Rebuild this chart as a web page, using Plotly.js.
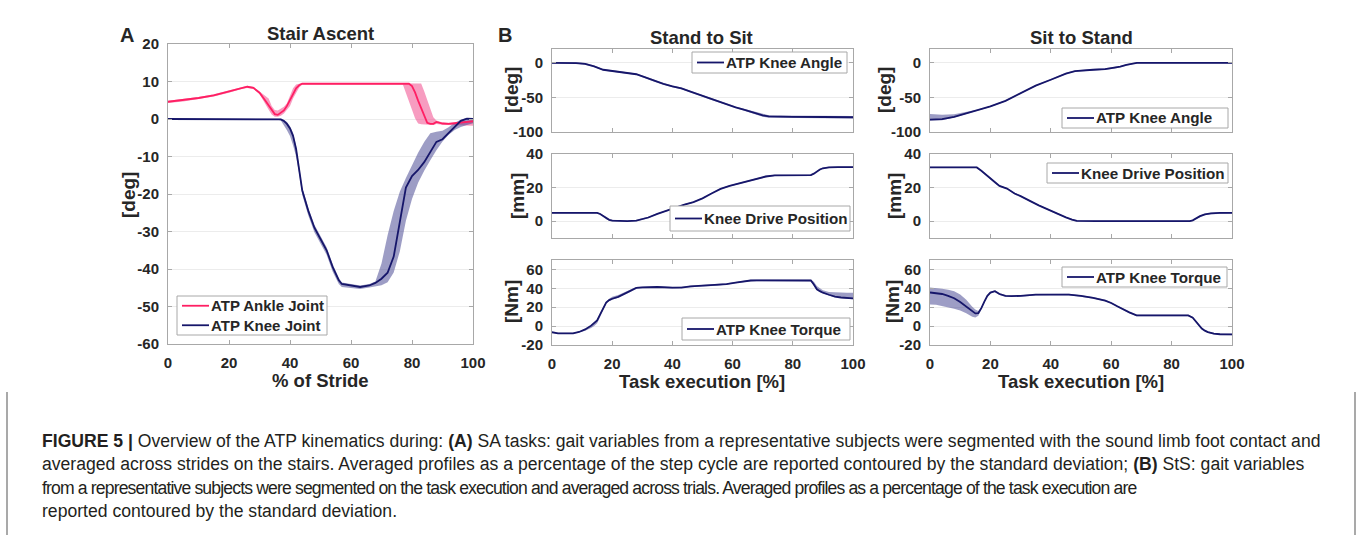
<!DOCTYPE html>
<html><head><meta charset="utf-8">
<script src="https://cdn.plot.ly/plotly-3.0.1.min.js"></script>
<style>html,body{margin:0;padding:0;background:#fff}#chart{width:1358px;height:535px}</style>
</head><body><div id="chart"></div>
<script>
// ---------- DATA ----------
// Panel A: Stair Ascent (% of stride)
const saAnkleX = [0,5,10,15,20,24,26,28,30,32,33,34,35,36,37,38,39,40,41,42,43,44,50,60,70,77,78,79,80,81,82,83,84,85,86,87,88,89,90,92,94,96,98,100];
const saAnkleMean = [4.6,5.0,5.6,6.3,7.3,8.3,8.6,8.3,7.0,4.8,3.6,2.4,1.3,1.1,1.6,2.3,3.5,5.0,6.9,8.2,9.0,9.4,9.4,9.4,9.4,9.4,9.4,9.4,8.8,7.1,4.9,2.9,0.6,-1.0,-1.3,-1.3,-0.8,-1.0,-1.2,-1.3,-1.1,-0.9,-0.8,-0.6];
const saAnkleSdUp = [0.3,0.3,0.3,0.3,0.3,0.3,0.3,0.3,0.3,1.4,1.9,1.1,1.1,1.2,1.2,1.0,0.7,1.5,1.3,1.0,0.5,0.2,0.2,0.2,0.2,0.1,0.1,0.1,0.7,2.4,4.6,6.6,6.8,6.1,4.0,1.8,0.4,0.3,0.3,0.3,0.3,0.3,0.3,0.3];
const saAnkleSdDn = [0.3,0.3,0.3,0.3,0.3,0.3,0.3,0.3,0.3,0.8,1.1,1.2,0.7,0.5,0.7,0.8,1.0,1.5,1.4,1.2,0.6,0.2,0.2,0.2,0.2,0.2,2.2,4.6,6.3,6.9,6.1,4.3,2.1,0.5,0.3,0.3,0.5,0.4,0.3,0.3,0.5,0.8,1.0,1.2];

const saKneeX = [0,10,20,30,36,37,38,39,40,41,42,43,44,46,48,50,52,54,56,57,60,63,66,68,70,72,74,76,78,80,82,84,86,88,90,92,94,96,98,100];
const saKneeMean = [0,0,0,0,0,-0.1,-0.5,-1.3,-2.5,-4.5,-8,-13,-19,-24.5,-29,-32,-35,-39.5,-43,-44,-44.5,-44.8,-44.4,-43.7,-42.6,-41,-36.7,-27,-18.3,-15.2,-13.6,-11.5,-8.9,-6.1,-5.4,-3.8,-2.1,-0.5,0.1,0];
const saKneeSdUp = [0.2,0.2,0.2,0.2,0.2,0.2,0.3,0.5,0.6,0.8,0.8,0.8,0.8,0.8,0.8,0.8,0.8,0.8,0.6,0.4,0.4,0.4,0.4,0.4,4.1,10,12.2,7.6,2.6,3.0,4.6,5.4,5.1,2.7,2.3,1.6,1.1,0.3,0.2,0.3];
const saKneeSdDn = [0.2,0.2,0.2,0.2,0.2,0.3,1.0,1.7,2.0,2.5,2.0,1.5,1.2,1.2,1.2,1.2,1.2,1.2,1.0,0.8,0.5,0.5,0.5,0.8,1.7,2.5,4.2,8.3,8.8,6.1,3.4,2.3,2.1,2.2,0.6,0.4,0.8,1.6,1.7,1.1];

// Panel B: Stand to Sit (task execution %)
const s2sAngleX = [0,5,8,11,14,17,19,22,25,28,31,34,37,40,43,46,49,52,55,58,61,64,67,70,72,75,80,90,100];
const s2sAngleMean = [0,0,-0.3,-1.5,-5,-10,-11,-12.5,-14.5,-16.5,-21,-26,-30.5,-34,-37,-41.5,-46,-51,-56,-60.5,-64.5,-68,-72,-76,-77.5,-78,-78,-78.3,-78.7];
const s2sAngleSd = [0.8,0.8,1,1.2,1.2,1.2,1.2,1.2,1.2,1.2,1.2,1.2,1.2,1.2,1.2,1.2,1.2,1.2,1.2,1.2,1.2,1.2,1.5,1.8,1.8,1.8,1.8,1.8,1.8];

const s2sDriveX = [0,10,15,16,17,18,19,20,22,25,28,30,32,35,38,41,44,47,50,53,56,59,62,65,68,71,74,80,86,87,88,89,90,92,95,100];
const s2sDriveMean = [5,5,5,4.3,3,1.6,0.8,0.4,0.1,0,0.3,1.2,2.2,4.4,6.3,8.2,9.9,11.4,13.6,16.5,19.2,21,22.5,23.8,25.3,26.6,27.3,27.4,27.4,28.3,29.8,30.8,31.5,32,32.2,32.2];
const s2sDriveSd = [0.4,0.4,0.4,0.4,0.4,0.4,0.4,0.4,0.4,0.4,0.4,0.4,0.4,0.4,0.4,0.4,0.4,0.4,0.4,0.4,0.4,0.4,0.4,0.4,0.4,0.4,0.4,0.4,0.4,0.4,0.4,0.4,0.4,0.4,0.4,0.4];

const s2sTorqueX = [0,2,5,7,9,11,13,14,15,16,17,18,19,20,22,24,26,28,30,35,40,43,46,50,55,58,61,64,66,68,70,75,80,86,87,88,89,90,92,94,96,98,100];
const s2sTorqueMean = [-6.5,-7.6,-7.7,-7.7,-6.2,-3.5,0.5,3.2,6,12.5,19,25,27.5,29,31,34,37,40.5,41,41.4,40.7,40.8,42,42.7,43.5,44.5,46,47.5,48.3,48.5,48.4,48.3,48.3,48.3,44,39,37,35.4,33.2,31.3,30.3,29.8,29.3];
const s2sTorqueSdUp = [0.6,0.6,0.6,0.6,0.6,0.8,1,1,1,1,1,1,1.5,2,2,1.5,1,0.8,0.8,0.8,0.8,0.8,0.8,0.8,0.8,0.8,0.8,0.8,0.8,0.8,0.8,0.8,0.8,0.8,3,3.5,3,2.6,2.8,4.2,5.2,5.5,5.9];
const s2sTorqueSdDn = [0.6,0.6,0.6,0.6,0.8,1.5,2.5,3,3,2,1.5,1,1,1,1,1,0.8,0.8,0.8,0.8,0.8,0.8,0.8,0.8,0.8,0.8,0.8,0.8,0.8,0.8,0.8,0.8,0.8,0.8,1,1,0.8,0.8,0.8,0.8,0.8,0.8,0.8];

// Panel B: Sit to Stand
const st2sAngleX = [0,4,8,12,16,20,25,30,35,40,45,48,50,54,58,61,63,65,67,68.5,75,85,100];
const st2sAngleMean = [-82,-81.5,-78,-73,-68.5,-63,-55,-44,-33,-24.5,-15.5,-12,-11,-10,-9,-7.5,-5.5,-3,-1,0,0,0,0];
const st2sAngleSdUp = [8,6.5,3.5,1.5,1,1,1,1,1,1,1,1,1,1,1,1,1,1,1,1,0.8,0.8,0.8];
const st2sAngleSdDn = [1.5,1.5,1.2,1,1,1,1,1,1,1,1,1,1,1,1,1,1,1,1,1,0.8,0.8,0.8];

const st2sDriveX = [0,10,15.5,17,19,21.5,23,25.5,28,30,33,36,39,42,45,47,48.6,55,70,86,87,88,89.4,91,93,96,100];
const st2sDriveMean = [32,32,32,30,27,22.8,21,19.4,16.5,14.9,12,9.4,7,4.5,2.3,1,0.2,0,0,0,0.5,1.7,3,4,4.6,4.9,5];
const st2sDriveSd = [0.4,0.4,0.4,0.4,0.4,0.4,0.4,0.4,0.4,0.4,0.4,0.4,0.4,0.4,0.4,0.4,0.4,0.4,0.4,0.4,0.4,0.4,0.4,0.4,0.4,0.4,0.4];

const st2sTorqueX = [0,2,4,6,8,10,12,14,15,16,17,18,19,20,21.5,23,25,27,30,35,40,46,50,54,58,60,62,64,66,68.4,75,85.5,87,88,89,90,91,92,94,96,100];
const st2sTorqueMean = [35.6,35,34,32,29.5,25.5,21,16,13.5,13.8,19,26,32,35.5,37,34,32,31.8,32,33.3,33.5,33.4,32,30,27,24.5,21,17.5,14.5,11.3,11.3,11.3,9,5,1,-2.5,-4.8,-6.3,-8,-8.6,-8.8];
const st2sTorqueSdUp = [5.4,5.5,5.5,6.5,7.5,8,7,4.5,4,2.2,1,1,1,1,1,1,0.8,0.8,0.8,0.8,0.8,0.8,0.8,0.8,0.8,0.8,0.8,0.8,0.8,0.8,0.8,0.8,0.8,0.8,0.8,0.8,0.8,0.8,0.8,0.8,0.8];
const st2sTorqueSdDn = [12.6,12.5,12.5,12,11,9,7.5,6,4.5,2.8,1,1,1,1,1,1,0.8,0.8,0.8,0.8,0.8,0.8,0.8,0.8,0.8,0.8,0.8,0.8,0.8,0.8,0.8,0.8,0.8,0.8,0.8,0.8,0.8,0.8,0.8,0.8,0.8];

const xTicks = [0,20,40,60,80,100];
const yTicksA = [-60,-50,-40,-30,-20,-10,0,10,20];
const yTicksAngle = [-100,-50,0];
const yTicksDrive = [0,20,40];
const yTicksTorque = [-20,0,20,40,60];

const captionLines = [
  '<b>FIGURE 5 |</b> Overview of the ATP kinematics during: <b>(A)</b> SA tasks: gait variables from a representative subjects were segmented with the sound limb foot contact and',
  'averaged across strides on the stairs. Averaged profiles as a percentage of the step cycle are reported contoured by the standard deviation; <b>(B)</b> StS: gait variables',
  'from a representative subjects were segmented on the task execution and averaged across trials. Averaged profiles as a percentage of the task execution are',
  'reported contoured by the standard deviation.'
];

// ---------- STYLE ----------
const W = 1358, H = 535;
const FONT = 'Liberation Sans, Arial, Helvetica, sans-serif';
const PINK = '#ff1f63', PINK_BAND = 'rgba(242,90,150,0.6)';
const NAVY = '#16166a', NAVY_BAND = 'rgba(60,60,140,0.5)';
const AXC = '#a8a8a8', TXT = '#262626';
const px = v => v / W, py = v => 1 - v / H;

function band(x, mean, up, dn, color, xa, ya) {
  const hi = mean.map((m, i) => m + up[i]);
  const lo = mean.map((m, i) => m - (dn ? dn[i] : up[i]));
  return {type:'scatter', mode:'lines', x: x.concat(x.slice().reverse()), y: hi.concat(lo.reverse()),
    fill:'toself', fillcolor:color, line:{width:0, color:'rgba(0,0,0,0)'}, hoverinfo:'skip', showlegend:false, xaxis:xa, yaxis:ya};
}
function line(x, mean, color, name, xa, ya) {
  return {type:'scatter', mode:'lines', x:x, y:mean, name:name, line:{color:color, width:1.8}, xaxis:xa, yaxis:ya, showlegend:false};
}

const traces = [
  band(saAnkleX, saAnkleMean, saAnkleSdUp, saAnkleSdDn, PINK_BAND, 'x', 'y'),
  band(saKneeX, saKneeMean, saKneeSdUp, saKneeSdDn, NAVY_BAND, 'x', 'y'),
  line(saAnkleX, saAnkleMean, PINK, 'ATP Ankle Joint', 'x', 'y'),
  line(saKneeX, saKneeMean, NAVY, 'ATP Knee Joint', 'x', 'y'),
  band(s2sAngleX, s2sAngleMean, s2sAngleSd, null, NAVY_BAND, 'x2', 'y2'),
  line(s2sAngleX, s2sAngleMean, NAVY, 'ATP Knee Angle', 'x2', 'y2'),
  band(s2sDriveX, s2sDriveMean, s2sDriveSd, null, NAVY_BAND, 'x3', 'y3'),
  line(s2sDriveX, s2sDriveMean, NAVY, 'Knee Drive Position', 'x3', 'y3'),
  band(s2sTorqueX, s2sTorqueMean, s2sTorqueSdUp, s2sTorqueSdDn, NAVY_BAND, 'x4', 'y4'),
  line(s2sTorqueX, s2sTorqueMean, NAVY, 'ATP Knee Torque', 'x4', 'y4'),
  band(st2sAngleX, st2sAngleMean, st2sAngleSdUp, st2sAngleSdDn, NAVY_BAND, 'x5', 'y5'),
  line(st2sAngleX, st2sAngleMean, NAVY, 'ATP Knee Angle', 'x5', 'y5'),
  band(st2sDriveX, st2sDriveMean, st2sDriveSd, null, NAVY_BAND, 'x6', 'y6'),
  line(st2sDriveX, st2sDriveMean, NAVY, 'Knee Drive Position', 'x6', 'y6'),
  band(st2sTorqueX, st2sTorqueMean, st2sTorqueSdUp, st2sTorqueSdDn, NAVY_BAND, 'x7', 'y7'),
  line(st2sTorqueX, st2sTorqueMean, NAVY, 'ATP Knee Torque', 'x7', 'y7')
];

const common = {showline:true, linecolor:AXC, linewidth:1, mirror:'ticks', ticks:'inside', ticklen:4,
  tickcolor:AXC, zeroline:false, fixedrange:true, ticklabelstandoff:5,
  tickfont:{family:FONT, size:15, weight:'bold', color:TXT}};
function xax(x0, x1, anchor, labels) {
  return Object.assign({}, common, {domain:[px(x0), px(x1)], range:[0,100], anchor:anchor,
    tickvals:xTicks, ticktext:xTicks.map(String), showticklabels:labels, showgrid:false});
}
function yax(y0, y1, anchor, range, ticks) {
  return Object.assign({}, common, {domain:[py(y1), py(y0)], range:range, anchor:anchor,
    tickvals:ticks, ticktext:ticks.map(String), showgrid:true, gridcolor:'#ececec', gridwidth:1});
}
const AX = [168, 473], B1 = [552, 853], B2 = [930, 1232];
const R1 = [49, 132], R2 = [154, 238], R3 = [260, 345];

function ann(text, x, y, size, extra) {
  return Object.assign({text:text, xref:'paper', yref:'paper', x:px(x), y:py(y), showarrow:false,
    xanchor:'center', yanchor:'middle', font:{family:FONT, size:size, color:TXT}}, extra || {});
}

const annotations = [
  ann('<b>A</b>', 127, 35, 20),
  ann('<b>B</b>', 505, 35, 20),
  ann('<b>Stair Ascent</b>', 320, 34, 18.5),
  ann('<b>Stand to Sit</b>', 701, 38, 18.5),
  ann('<b>Sit to Stand</b>', 1081, 38, 18.5),
  ann('<b>% of Stride</b>', 320, 380, 18.5),
  ann('<b>Task execution [%]</b>', 702, 381, 18.5),
  ann('<b>Task execution [%]</b>', 1081, 381, 18.5),
  ann('<b>[deg]</b>', 129, 195, 19, {textangle:-90}),
  ann('<b>[deg]</b>', 511, 90, 19, {textangle:-90}),
  ann('<b>[mm]</b>', 518, 196, 19, {textangle:-90}),
  ann('<b>[Nm]</b>', 511, 302, 19, {textangle:-90}),
  ann('<b>[deg]</b>', 884, 90, 19, {textangle:-90}),
  ann('<b>[mm]</b>', 895, 196, 19, {textangle:-90}),
  ann('<b>[Nm]</b>', 892, 302, 19, {textangle:-90})
];
const shapes = [
  {type:'line', xref:'paper', yref:'paper', x0:px(7), x1:px(7), y0:py(392), y1:py(535), line:{color:'#8c8c8c', width:1.5}},
  {type:'line', xref:'paper', yref:'paper', x0:px(1355), x1:px(1355), y0:py(392), y1:py(535), line:{color:'#8c8c8c', width:1.5}}
];

// legend boxes (MATLAB-style), entries taken from the trace names/colours
function legendBox(x0, x1, y0, y1, idx, fs) {
  shapes.push({type:'rect', xref:'paper', yref:'paper', x0:px(x0), x1:px(x1), y0:py(y1), y1:py(y0),
    line:{color:AXC, width:1}, fillcolor:'#ffffff', layer:'above'});
  const n = idx.length, h = (y1 - y0) / n;
  idx.forEach((ti, i) => {
    const tr = traces[ti], yc = y0 + h * (i + 0.5);
    shapes.push({type:'line', xref:'paper', yref:'paper', x0:px(x0 + 5), x1:px(x0 + 32), y0:py(yc), y1:py(yc),
      line:{color:tr.line.color, width:1.8}, layer:'above'});
    annotations.push(ann('<b>' + tr.name + '</b>', x0 + 32, yc, fs, {xanchor:'left'}));
  });
}
legendBox(177, 327, 296, 335, [2, 3], 15);
legendBox(692, 847, 52, 73, [5], 15.2);
legendBox(670, 850, 206, 231, [7], 15.2);
legendBox(682, 850, 318, 340, [9], 15.2);
legendBox(1062, 1228, 108, 128, [11], 15.2);
legendBox(1047, 1228, 163, 183, [13], 15.2);
legendBox(1062, 1227, 267, 287, [15], 15.2);

const capY = [441, 464, 488, 511];
const capSpacing = ['0px', '0px', '-0.85px', '0px'];
captionLines.forEach((t, i) => annotations.push(ann('<span style="letter-spacing:' + capSpacing[i] + '">' + t + '</span>', 40, capY[i], 17.6,
  {xanchor:'left', font:{family:FONT, size:17.6, color:'#231f20'}})));

const layout = {
  width:W, height:H, margin:{l:0, r:0, t:0, b:0}, paper_bgcolor:'#fff', plot_bgcolor:'#fff',
  font:{family:FONT, color:TXT}, showlegend:false,
  xaxis: xax(AX[0], AX[1], 'y', true),
  yaxis: yax(44, 344, 'x', [-60,20], yTicksA),
  xaxis2: xax(B1[0], B1[1], 'y2', false), yaxis2: yax(R1[0], R1[1], 'x2', [-100,20], yTicksAngle),
  xaxis3: xax(B1[0], B1[1], 'y3', false), yaxis3: yax(R2[0], R2[1], 'x3', [-10,40], yTicksDrive),
  xaxis4: xax(B1[0], B1[1], 'y4', true),  yaxis4: yax(R3[0], R3[1], 'x4', [-20,70], yTicksTorque),
  xaxis5: xax(B2[0], B2[1], 'y5', false), yaxis5: yax(R1[0], R1[1], 'x5', [-100,20], yTicksAngle),
  xaxis6: xax(B2[0], B2[1], 'y6', false), yaxis6: yax(R2[0], R2[1], 'x6', [-10,40], yTicksDrive),
  xaxis7: xax(B2[0], B2[1], 'y7', true),  yaxis7: yax(R3[0], R3[1], 'x7', [-20,70], yTicksTorque),
  annotations: annotations,
  shapes: shapes
};
Plotly.newPlot('chart', traces, layout, {displayModeBar:false, staticPlot:true});
</script></body></html>
